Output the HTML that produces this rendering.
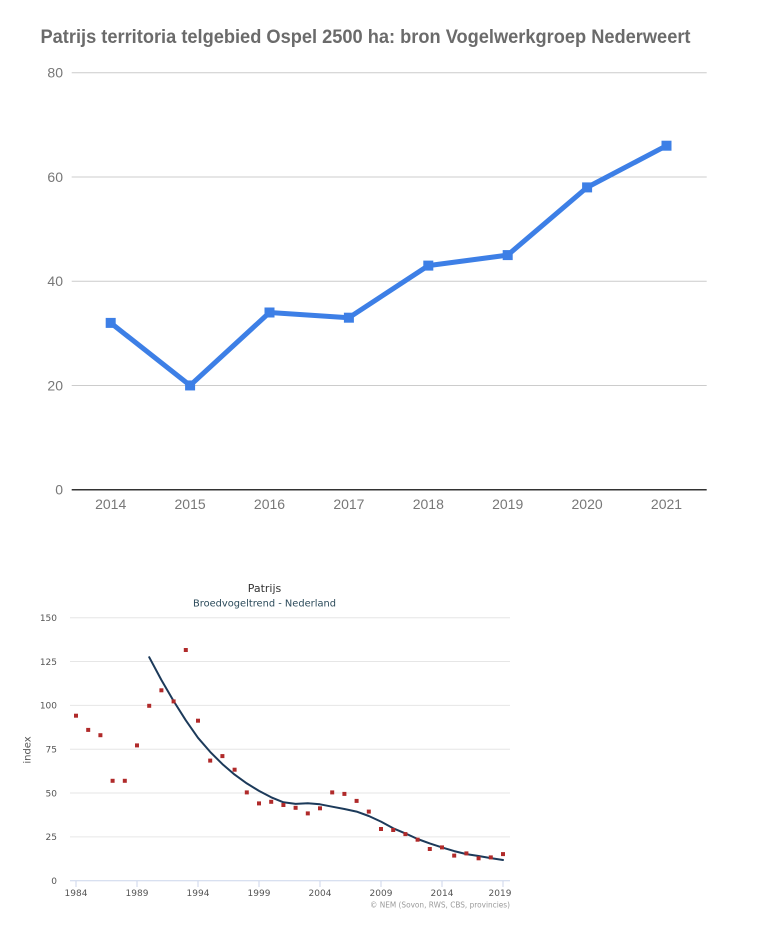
<!DOCTYPE html>
<html>
<head>
<meta charset="utf-8">
<style>
  html,body{margin:0;padding:0;background:#fff;}
  svg{display:block;}
</style>
</head>
<body>
<svg width="760" height="951" viewBox="0 0 760 951" xmlns="http://www.w3.org/2000/svg">
  <rect width="760" height="951" fill="#fff"/>

  <!-- ===== Top chart ===== -->
  <text x="40.5" y="43" font-family="Liberation Sans, Arial, sans-serif" font-weight="bold" font-size="19" fill="#6b6b6b" textLength="650" lengthAdjust="spacingAndGlyphs">Patrijs territoria telgebied Ospel 2500 ha: bron Vogelwerkgroep Nederweert</text>

  <g stroke="#cccccc" stroke-width="1">
    <line x1="71.7" y1="72.7" x2="706.7" y2="72.7"/>
    <line x1="71.7" y1="177.0" x2="706.7" y2="177.0"/>
    <line x1="71.7" y1="281.2" x2="706.7" y2="281.2"/>
    <line x1="71.7" y1="385.5" x2="706.7" y2="385.5"/>
  </g>
  <line x1="71.7" y1="489.7" x2="706.7" y2="489.7" stroke="#333" stroke-width="1.5"/>

  <g font-family="Liberation Sans, Arial, sans-serif" font-size="14" fill="#777" text-anchor="end">
    <text x="63" y="77.7">80</text>
    <text x="63" y="182">60</text>
    <text x="63" y="286.2">40</text>
    <text x="63" y="390.5">20</text>
    <text x="63" y="494.7">0</text>
  </g>
  <g font-family="Liberation Sans, Arial, sans-serif" font-size="14" fill="#777" text-anchor="middle">
    <text x="110.7" y="509">2014</text>
    <text x="190.1" y="509">2015</text>
    <text x="269.5" y="509">2016</text>
    <text x="348.9" y="509">2017</text>
    <text x="428.3" y="509">2018</text>
    <text x="507.7" y="509">2019</text>
    <text x="587.1" y="509">2020</text>
    <text x="666.5" y="509">2021</text>
  </g>

  <polyline fill="none" stroke="#3d7fe6" stroke-width="5" stroke-linejoin="round"
    points="110.7,322.9 190.1,385.45 269.5,312.5 348.9,317.7 428.3,265.6 507.7,255.1 587.1,187.4 666.5,145.7"/>
  <g fill="#3d7fe6">
    <rect x="105.7" y="317.9" width="10" height="10"/>
    <rect x="185.1" y="380.45" width="10" height="10"/>
    <rect x="264.5" y="307.5" width="10" height="10"/>
    <rect x="343.9" y="312.7" width="10" height="10"/>
    <rect x="423.3" y="260.6" width="10" height="10"/>
    <rect x="502.7" y="250.1" width="10" height="10"/>
    <rect x="582.1" y="182.4" width="10" height="10"/>
    <rect x="661.5" y="140.7" width="10" height="10"/>
  </g>

  <!-- ===== Bottom chart ===== -->
  <text x="264.5" y="592" text-anchor="middle" font-family="DejaVu Sans, Verdana, sans-serif" font-size="11" fill="#333">Patrijs</text>
  <text x="264.5" y="606.5" text-anchor="middle" font-family="DejaVu Sans, Verdana, sans-serif" font-size="9.8" fill="#2b4a5a" textLength="143" lengthAdjust="spacingAndGlyphs">Broedvogeltrend - Nederland</text>

  <g stroke="#e6e6e6" stroke-width="1">
    <line x1="70" y1="617.7" x2="510" y2="617.7"/>
    <line x1="70" y1="661.5" x2="510" y2="661.5"/>
    <line x1="70" y1="705.4" x2="510" y2="705.4"/>
    <line x1="70" y1="749.2" x2="510" y2="749.2"/>
    <line x1="70" y1="793.0" x2="510" y2="793.0"/>
    <line x1="70" y1="836.9" x2="510" y2="836.9"/>
  </g>
  <line x1="70" y1="880.7" x2="510" y2="880.7" stroke="#ccd6eb" stroke-width="1"/>
  <g stroke="#ccd6eb" stroke-width="1">
    <line x1="76" y1="881" x2="76" y2="887"/>
    <line x1="137" y1="881" x2="137" y2="887"/>
    <line x1="198" y1="881" x2="198" y2="887"/>
    <line x1="259" y1="881" x2="259" y2="887"/>
    <line x1="320" y1="881" x2="320" y2="887"/>
    <line x1="381" y1="881" x2="381" y2="887"/>
    <line x1="442" y1="881" x2="442" y2="887"/>
    <line x1="503" y1="881" x2="503" y2="887"/>
  </g>

  <g font-family="DejaVu Sans, Verdana, sans-serif" font-size="9" fill="#555" text-anchor="end">
    <text x="57" y="621">150</text>
    <text x="57" y="664.8">125</text>
    <text x="57" y="708.7">100</text>
    <text x="57" y="752.5">75</text>
    <text x="57" y="796.3">50</text>
    <text x="57" y="840.2">25</text>
    <text x="57" y="884">0</text>
  </g>
  <g font-family="DejaVu Sans, Verdana, sans-serif" font-size="9" fill="#555" text-anchor="middle">
    <text x="76" y="896">1984</text>
    <text x="137" y="896">1989</text>
    <text x="198" y="896">1994</text>
    <text x="259" y="896">1999</text>
    <text x="320" y="896">2004</text>
    <text x="381" y="896">2009</text>
    <text x="442" y="896">2014</text>
    <text x="500" y="896">2019</text>
  </g>
  <text transform="translate(30.5,750) rotate(-90)" text-anchor="middle" font-family="DejaVu Sans, Verdana, sans-serif" font-size="10" fill="#555">index</text>
  <text x="510" y="907.5" text-anchor="end" font-family="DejaVu Sans, Verdana, sans-serif" font-size="8" fill="#999" textLength="140" lengthAdjust="spacingAndGlyphs">© NEM (Sovon, RWS, CBS, provincies)</text>

  <polyline fill="none" stroke="#1c3a5a" stroke-width="2" stroke-linejoin="round" stroke-linecap="round"
    points="149.2,657.2 161.4,680.0 173.6,701.0 185.8,720.3 198.0,737.8 210.2,751.9 222.4,764.1 234.6,774.6 246.8,783.4 259.0,790.9 271.2,797.3 283.4,802.3 295.6,803.9 307.8,803.2 320.0,804.3 332.2,806.7 344.4,809.0 356.6,811.6 368.8,816.0 381.0,821.6 393.2,828.3 405.4,833.4 417.6,839.0 429.8,843.4 442.0,847.4 454.2,851.1 466.4,854.1 478.6,856.0 490.8,858.1 503.0,860.0"/>

  <g fill="#b02a2a">
    <rect x="74" y="713.7" width="4" height="4"/>
    <rect x="86.2" y="727.9" width="4" height="4"/>
    <rect x="98.4" y="733.2" width="4" height="4"/>
    <rect x="110.6" y="778.8" width="4" height="4"/>
    <rect x="122.8" y="778.8" width="4" height="4"/>
    <rect x="135.0" y="743.4" width="4" height="4"/>
    <rect x="147.2" y="703.8" width="4" height="4"/>
    <rect x="159.4" y="688.3" width="4" height="4"/>
    <rect x="171.6" y="699.4" width="4" height="4"/>
    <rect x="183.8" y="648.0" width="4" height="4"/>
    <rect x="196.0" y="718.7" width="4" height="4"/>
    <rect x="208.2" y="758.6" width="4" height="4"/>
    <rect x="220.4" y="754.1" width="4" height="4"/>
    <rect x="232.6" y="767.7" width="4" height="4"/>
    <rect x="244.8" y="790.4" width="4" height="4"/>
    <rect x="257.0" y="801.4" width="4" height="4"/>
    <rect x="269.2" y="799.8" width="4" height="4"/>
    <rect x="281.4" y="803.0" width="4" height="4"/>
    <rect x="293.6" y="805.8" width="4" height="4"/>
    <rect x="305.8" y="811.4" width="4" height="4"/>
    <rect x="318.0" y="806.3" width="4" height="4"/>
    <rect x="330.2" y="790.4" width="4" height="4"/>
    <rect x="342.4" y="791.9" width="4" height="4"/>
    <rect x="354.6" y="798.9" width="4" height="4"/>
    <rect x="366.8" y="809.6" width="4" height="4"/>
    <rect x="379.0" y="827.0" width="4" height="4"/>
    <rect x="391.2" y="828.0" width="4" height="4"/>
    <rect x="403.4" y="832.1" width="4" height="4"/>
    <rect x="415.6" y="837.7" width="4" height="4"/>
    <rect x="427.8" y="847.0" width="4" height="4"/>
    <rect x="440.0" y="845.4" width="4" height="4"/>
    <rect x="452.2" y="853.6" width="4" height="4"/>
    <rect x="464.4" y="851.4" width="4" height="4"/>
    <rect x="476.6" y="856.3" width="4" height="4"/>
    <rect x="488.8" y="855.4" width="4" height="4"/>
    <rect x="501.0" y="852.1" width="4" height="4"/>
  </g>
</svg>
</body>
</html>
